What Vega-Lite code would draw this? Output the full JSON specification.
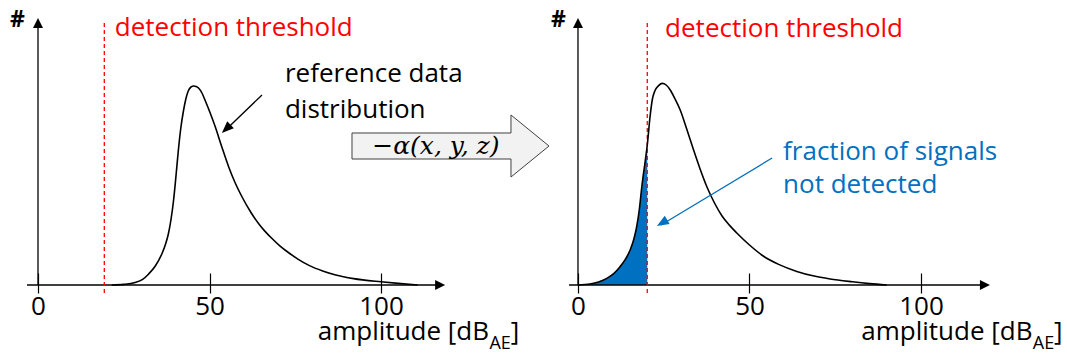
{
  "$schema": "https://vega.github.io/schema/vega-lite/v6.json",
  "width": 1067,
  "height": 360,
  "padding": 0,
  "autosize": {"type": "none"},
  "background": "white",
  "config": {"view": {"stroke": null}},
  "resolve": {"scale": {"x": "independent"}, "axis": {"x": "independent"}},
  "layer": [
    {
      "encoding": {
        "x": {"field": "x", "type": "quantitative", "scale": {"domain": [-11.079, 300], "nice": false, "zero": false},
          "axis": {"orient": "bottom", "values": [0, 50, 100], "offset": -87, "domain": false, "grid": false, "ticks": true, "tickSize": 20, "tickColor": "black", "tickWidth": 1.2, "labelFont": "Open Sans", "labelFontSize": 26, "labelColor": "black", "labelPadding": 21, "labelBaseline": "alphabetic", "labelFlush": false, "labelOverlap": false, "title": null}},
        "y": {"field": "y", "type": "quantitative", "scale": {"domain": [-0.375, 1.425], "nice": false, "zero": false}, "axis": null}
      },
      "layer": [
        {
          "data": {"values": [
            {"x": -3.2, "y": 0, "x2": 117, "y2": 0},
            {"x": 0, "y": 0, "x2": 0, "y2": 1.31},
            {"x": 65.3, "y": 0.95, "x2": 55, "y2": 0.78}
          ]},
          "mark": {"type": "rule", "color": "black", "strokeWidth": 1.3},
          "encoding": {"x2": {"field": "x2"}, "y2": {"field": "y2"}}
        },
        {
          "data": {"values": [{"x": 19.33, "y": -0.04, "x2": 19.33, "y2": 1.31}]},
          "mark": {"type": "rule", "color": "#FF0000", "strokeWidth": 1.3, "strokeDash": [4, 3]},
          "encoding": {"x2": {"field": "x2"}, "y2": {"field": "y2"}}
        },
        {
          "data": {"values": [
            {"x": 21.5, "y": 0}, {"x": 25, "y": 0.003}, {"x": 28.3, "y": 0.012}, {"x": 30.5, "y": 0.028},
            {"x": 32.2, "y": 0.054}, {"x": 34.2, "y": 0.095}, {"x": 36.1, "y": 0.155}, {"x": 37.2, "y": 0.205},
            {"x": 38.0, "y": 0.255}, {"x": 38.8, "y": 0.33}, {"x": 39.5, "y": 0.42}, {"x": 40.2, "y": 0.54},
            {"x": 40.9, "y": 0.67}, {"x": 41.6, "y": 0.78}, {"x": 42.4, "y": 0.87}, {"x": 43.1, "y": 0.93},
            {"x": 43.8, "y": 0.97}, {"x": 44.6, "y": 0.99}, {"x": 45.4, "y": 0.995}, {"x": 46.1, "y": 0.993},
            {"x": 46.8, "y": 0.985}, {"x": 47.8, "y": 0.96}, {"x": 48.8, "y": 0.92}, {"x": 50.2, "y": 0.86},
            {"x": 51.7, "y": 0.79}, {"x": 53.6, "y": 0.69}, {"x": 55.6, "y": 0.59}, {"x": 57.5, "y": 0.51},
            {"x": 59.5, "y": 0.44}, {"x": 62, "y": 0.365}, {"x": 64.4, "y": 0.305}, {"x": 66, "y": 0.272},
            {"x": 68, "y": 0.236}, {"x": 70.5, "y": 0.196}, {"x": 73.2, "y": 0.16}, {"x": 76, "y": 0.127},
            {"x": 79, "y": 0.098}, {"x": 83, "y": 0.07}, {"x": 86.8, "y": 0.05}, {"x": 92, "y": 0.032},
            {"x": 100, "y": 0.016}, {"x": 105, "y": 0.008}, {"x": 110.7, "y": 0}
          ]},
          "mark": {"type": "line", "color": "black", "strokeWidth": 1.6, "interpolate": "monotone"}
        },
        {
          "data": {"values": [{"x": 118.7, "y": 0}]},
          "mark": {"type": "point", "shape": "M0,0L-1,-0.5L-1,0.5Z", "size": 400, "filled": true, "fill": "black", "strokeWidth": 0, "opacity": 1, "angle": 0}
        },
        {
          "data": {"values": [{"x": 0, "y": 1.335}]},
          "mark": {"type": "point", "shape": "M0,0L-1,-0.5L-1,0.5Z", "size": 400, "filled": true, "fill": "black", "strokeWidth": 0, "opacity": 1, "angle": 270}
        },
        {
          "data": {"values": [{"x": 53.6, "y": 0.76}]},
          "mark": {"type": "point", "shape": "M0,0L-1,-0.4L-1,0.4Z", "size": 576, "filled": true, "fill": "black", "strokeWidth": 0, "opacity": 1, "angle": 136.5}
        },
        {
          "data": {"values": [{"x": 120.26, "y": 0.695}]},
          "mark": {"type": "point", "shape": "M-1,-0.132L0.614,-0.132L0.614,-0.315L1,0L0.614,0.315L0.614,0.132L-1,0.132Z", "size": 38809, "filled": true, "fill": "#F2F2F2", "stroke": "#404040", "strokeWidth": 1, "opacity": 1}
        },
        {
          "data": {"values": [{"x": 116.0, "y": 0.655, "label": "−α(x, y, z)"}]},
          "mark": {"type": "text", "align": "center", "baseline": "alphabetic", "font": "DejaVu Serif", "fontStyle": "italic", "fontSize": 25, "color": "black"},
          "encoding": {"text": {"field": "label"}}
        },
        {
          "data": {"values": [{"x": -5.98, "y": 1.29, "label": "#"}]},
          "mark": {"type": "text", "align": "center", "baseline": "alphabetic", "font": "Open Sans", "fontWeight": "bold", "fontSize": 23, "color": "black"},
          "encoding": {"text": {"field": "label"}}
        },
        {
          "data": {"values": [{"x": 22.4, "y": 1.245, "label": "detection threshold"}]},
          "mark": {"type": "text", "align": "left", "baseline": "alphabetic", "font": "Open Sans", "fontSize": 26, "color": "#FF0000"},
          "encoding": {"text": {"field": "label"}}
        },
        {
          "data": {"values": [{"x": 72.0, "y": 1.015, "label": "reference data"}, {"x": 72.0, "y": 0.835, "label": "distribution"}]},
          "mark": {"type": "text", "align": "left", "baseline": "alphabetic", "font": "Open Sans", "fontSize": 26, "color": "black"},
          "encoding": {"text": {"field": "label"}}
        },
        {
          "data": {"values": [{"x": 131.5, "y": -0.275, "label": "amplitude [dB"}]},
          "mark": {"type": "text", "align": "right", "baseline": "alphabetic", "font": "Open Sans", "fontSize": 26, "color": "black"},
          "encoding": {"text": {"field": "label"}}
        },
        {
          "data": {"values": [{"x": 131.6, "y": -0.32, "label": "AE"}]},
          "mark": {"type": "text", "align": "left", "baseline": "alphabetic", "font": "Open Sans", "fontSize": 18, "color": "black"},
          "encoding": {"text": {"field": "label"}}
        },
        {
          "data": {"values": [{"x": 137.8, "y": -0.275, "label": "]"}]},
          "mark": {"type": "text", "align": "left", "baseline": "alphabetic", "font": "Open Sans", "fontSize": 26, "color": "black"},
          "encoding": {"text": {"field": "label"}}
        }
      ]
    },
    {
      "encoding": {
        "x": {"field": "x", "type": "quantitative", "scale": {"domain": [-168.51, 142.57], "nice": false, "zero": false},
          "axis": {"orient": "bottom", "values": [0, 50, 100], "offset": -87, "domain": false, "grid": false, "ticks": true, "tickSize": 20, "tickColor": "black", "tickWidth": 1.2, "labelFont": "Open Sans", "labelFontSize": 26, "labelColor": "black", "labelPadding": 21, "labelBaseline": "alphabetic", "labelFlush": false, "labelOverlap": false, "title": null}},
        "y": {"field": "y", "type": "quantitative", "scale": {"domain": [-0.375, 1.425], "nice": false, "zero": false}, "axis": null}
      },
      "layer": [
        {
          "data": {"values": [
            {"x": 0, "y": 0}, {"x": 3.5, "y": 0.005}, {"x": 6, "y": 0.015}, {"x": 8.4, "y": 0.033},
            {"x": 10.5, "y": 0.058}, {"x": 12.2, "y": 0.09}, {"x": 13.8, "y": 0.128}, {"x": 15.2, "y": 0.175},
            {"x": 16.3, "y": 0.23}, {"x": 17.1, "y": 0.29}, {"x": 17.9, "y": 0.38}, {"x": 18.6, "y": 0.49},
            {"x": 19.6, "y": 0.62}, {"x": 20.2, "y": 0.7}
          ]},
          "mark": {"type": "area", "color": "#0070C0", "opacity": 1, "interpolate": "monotone"},
          "encoding": {"y2": {"datum": 0}}
        },
        {
          "data": {"values": [
            {"x": -2.6, "y": 0, "x2": 118.4, "y2": 0},
            {"x": 0, "y": 0, "x2": 0, "y2": 1.31}
          ]},
          "mark": {"type": "rule", "color": "black", "strokeWidth": 1.3},
          "encoding": {"x2": {"field": "x2"}, "y2": {"field": "y2"}}
        },
        {
          "data": {"values": [{"x": 20.2, "y": -0.04, "x2": 20.2, "y2": 1.31}]},
          "mark": {"type": "rule", "color": "#FF0000", "strokeWidth": 1.3, "strokeDash": [4, 3]},
          "encoding": {"x2": {"field": "x2"}, "y2": {"field": "y2"}}
        },
        {
          "data": {"values": [
            {"x": 0, "y": 0}, {"x": 3.5, "y": 0.005}, {"x": 6, "y": 0.015}, {"x": 8.4, "y": 0.033},
            {"x": 10.5, "y": 0.058}, {"x": 12.2, "y": 0.09}, {"x": 13.8, "y": 0.128}, {"x": 15.2, "y": 0.175},
            {"x": 16.3, "y": 0.23}, {"x": 17.1, "y": 0.29}, {"x": 17.9, "y": 0.38}, {"x": 18.6, "y": 0.49},
            {"x": 19.6, "y": 0.62}, {"x": 20.2, "y": 0.7}, {"x": 21.0, "y": 0.84}, {"x": 21.7, "y": 0.93},
            {"x": 22.4, "y": 0.97}, {"x": 23.5, "y": 0.997}, {"x": 24.6, "y": 1.008}, {"x": 25.7, "y": 1.0},
            {"x": 26.9, "y": 0.975}, {"x": 28.3, "y": 0.93}, {"x": 29.8, "y": 0.875}, {"x": 31.7, "y": 0.78},
            {"x": 33.7, "y": 0.675}, {"x": 35.6, "y": 0.58}, {"x": 37.6, "y": 0.49}, {"x": 39.8, "y": 0.41},
            {"x": 42, "y": 0.345}, {"x": 44.2, "y": 0.298}, {"x": 46.3, "y": 0.26}, {"x": 50, "y": 0.2},
            {"x": 54, "y": 0.145}, {"x": 58.5, "y": 0.103}, {"x": 63.8, "y": 0.068}, {"x": 68.5, "y": 0.046},
            {"x": 73.5, "y": 0.03}, {"x": 80, "y": 0.016}, {"x": 85, "y": 0.007}, {"x": 90, "y": 0}
          ]},
          "mark": {"type": "line", "color": "black", "strokeWidth": 1.6, "interpolate": "monotone"}
        },
        {
          "data": {"values": [{"x": 56.6, "y": 0.635, "x2": 24.2, "y2": 0.30}]},
          "mark": {"type": "rule", "color": "#0070C0", "strokeWidth": 1.3},
          "encoding": {"x2": {"field": "x2"}, "y2": {"field": "y2"}}
        },
        {
          "data": {"values": [{"x": 120.1, "y": 0}]},
          "mark": {"type": "point", "shape": "M0,0L-1,-0.5L-1,0.5Z", "size": 400, "filled": true, "fill": "black", "strokeWidth": 0, "opacity": 1, "angle": 0}
        },
        {
          "data": {"values": [{"x": 0, "y": 1.335}]},
          "mark": {"type": "point", "shape": "M0,0L-1,-0.5L-1,0.5Z", "size": 400, "filled": true, "fill": "black", "strokeWidth": 0, "opacity": 1, "angle": 270}
        },
        {
          "data": {"values": [{"x": 23.0, "y": 0.295}]},
          "mark": {"type": "point", "shape": "M0,0L-1,-0.4L-1,0.4Z", "size": 576, "filled": true, "fill": "#0070C0", "strokeWidth": 0, "opacity": 1, "angle": 149.4}
        },
        {
          "data": {"values": [{"x": -5.74, "y": 1.29, "label": "#"}]},
          "mark": {"type": "text", "align": "center", "baseline": "alphabetic", "font": "Open Sans", "fontWeight": "bold", "fontSize": 23, "color": "black"},
          "encoding": {"text": {"field": "label"}}
        },
        {
          "data": {"values": [{"x": 25.4, "y": 1.24, "label": "detection threshold"}]},
          "mark": {"type": "text", "align": "left", "baseline": "alphabetic", "font": "Open Sans", "fontSize": 26, "color": "#FF0000"},
          "encoding": {"text": {"field": "label"}}
        },
        {
          "data": {"values": [{"x": 59.8, "y": 0.625, "label": "fraction of signals"}, {"x": 59.8, "y": 0.46, "label": "not detected"}]},
          "mark": {"type": "text", "align": "left", "baseline": "alphabetic", "font": "Open Sans", "fontSize": 26, "color": "#0070C0"},
          "encoding": {"text": {"field": "label"}}
        },
        {
          "data": {"values": [{"x": 132.5, "y": -0.275, "label": "amplitude [dB"}]},
          "mark": {"type": "text", "align": "right", "baseline": "alphabetic", "font": "Open Sans", "fontSize": 26, "color": "black"},
          "encoding": {"text": {"field": "label"}}
        },
        {
          "data": {"values": [{"x": 132.6, "y": -0.32, "label": "AE"}]},
          "mark": {"type": "text", "align": "left", "baseline": "alphabetic", "font": "Open Sans", "fontSize": 18, "color": "black"},
          "encoding": {"text": {"field": "label"}}
        },
        {
          "data": {"values": [{"x": 138.8, "y": -0.275, "label": "]"}]},
          "mark": {"type": "text", "align": "left", "baseline": "alphabetic", "font": "Open Sans", "fontSize": 26, "color": "black"},
          "encoding": {"text": {"field": "label"}}
        }
      ]
    }
  ]
}
